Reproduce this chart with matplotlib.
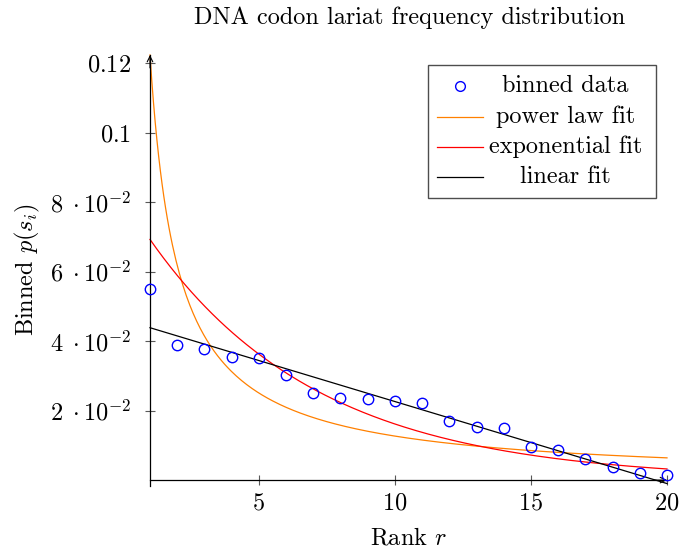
import numpy as np
import matplotlib
matplotlib.use("Agg")
import matplotlib.pyplot as plt
from matplotlib.patches import Rectangle
from matplotlib.lines import Line2D

plt.rcParams['mathtext.fontset'] = 'cm'
plt.rcParams['font.family'] = ['cmr10', 'DejaVu Sans']
plt.rcParams['axes.formatter.use_mathtext'] = True

# ---- data ----
ranks = list(range(1, 21))
binned = [0.0550, 0.0389, 0.0376, 0.0355, 0.0350, 0.0301, 0.0252, 0.0236, 0.0232, 0.0228,
          0.0221, 0.0171, 0.0154, 0.0151, 0.0094, 0.0088, 0.0060, 0.0037, 0.0019, 0.0015]

# fit parameters
power_a, power_b = 0.1223, 0.985        # a * r^-b
exp_a, exp_k = 0.0814, 0.1618           # a * exp(-k r)
lin_c, lin_m = 0.0462, -0.00236         # c + m r

yticks = [0.02, 0.04, 0.06, 0.08, 0.10, 0.12]
ytick_labels = [r'$2\;\cdot 10^{-2}$', r'$4\;\cdot 10^{-2}$', r'$6\;\cdot 10^{-2}$',
                r'$8\;\cdot 10^{-2}$', r'$0.1$', r'$0.12$']
xticks = [5, 10, 15, 20]
xtick_labels = ['$5$', '$10$', '$15$', '$20$']

legend_labels = ['binned data', 'power law fit', 'exponential fit', 'linear fit']
c_data, c_pow, c_exp, c_lin = '#0000FF', '#FF8000', '#FF0000', '#000000'

FS = 17.5

fig = plt.figure(figsize=(6.94, 5.5), dpi=100)
ax = fig.add_axes([150 / 694, (550 - 486) / 550, 517 / 694, 431 / 550])

r = np.linspace(1, 20, 300)
ax.plot(r, power_a * r ** (-power_b), color=c_pow, lw=0.9, clip_on=False)
ax.plot(r, exp_a * np.exp(-exp_k * r), color=c_exp, lw=0.9, clip_on=False)
ax.plot(r, lin_c + lin_m * r, color=c_lin, lw=0.9, clip_on=False)
ax.plot(ranks, binned, linestyle='none', marker='o', markersize=7.5, markerfacecolor='none',
        markeredgecolor=c_data, markeredgewidth=1.0, clip_on=False, zorder=5)

ax.set_xlim(1, 20)
ax.set_ylim(-0.0017, 0.1223)

for s in ['top', 'right']:
    ax.spines[s].set_visible(False)
ax.spines['bottom'].set_position(('data', 0))
ax.spines['left'].set_linewidth(0.9)
ax.spines['bottom'].set_linewidth(0.9)

ax.set_xticks(xticks)
ax.set_xticklabels(xtick_labels, fontsize=FS)
ax.set_yticks(yticks)
ax.set_yticklabels(ytick_labels, fontsize=FS)
ax.tick_params(direction='inout', length=7, width=0.8, color='0.35')
ax.tick_params(axis='y', pad=10)
ax.tick_params(axis='x', pad=5)

# axis arrows
ax.annotate('', xy=(0, 1.0), xytext=(0, 0.97), xycoords='axes fraction',
            arrowprops=dict(arrowstyle='->', lw=0.8, color='black', shrinkA=0, shrinkB=0))
ax.annotate('', xy=(20, 0), xytext=(19.5, 0), xycoords='data',
            arrowprops=dict(arrowstyle='->', lw=0.8, color='black', shrinkA=0, shrinkB=0))

# legend (pgfplots style: centered text)
tr = ax.transAxes
ax.add_patch(Rectangle((0.5383, 0.6682), 0.9787 - 0.5383, 0.9768 - 0.6682, transform=tr,
                       facecolor='white', edgecolor='0.3', lw=1.0, zorder=10, clip_on=False))
rows = [0.9281, 0.8568, 0.7872, 0.7176]
handles = [None, c_pow, c_exp, c_lin]
for lab, yy, col in zip(legend_labels, rows, handles):
    if col is None:
        ax.add_line(Line2D([0.5996], [yy], transform=tr, marker='o', markersize=7.0,
                           markerfacecolor='none', markeredgecolor=c_data,
                           markeredgewidth=1.0, linestyle='none', zorder=11, clip_on=False))
    else:
        ax.add_line(Line2D([0.5557, 0.6435], [yy, yy], transform=tr, color=col, lw=0.9,
                           zorder=11, clip_on=False))
    ax.text(0.8037, yy, lab, transform=tr, ha='center', va='center', fontsize=FS, zorder=12)

fig.text(409.5 / 694, 1 - 18 / 550, 'DNA codon lariat frequency distribution',
         ha='center', va='center', fontsize=FS)
fig.text(408.5 / 694, 1 - 538 / 550, r'Rank $r$', ha='center', va='center', fontsize=FS)
fig.text(27 / 694, 1 - 270 / 550, r'Binned $p(s_i)$', ha='center', va='center',
         rotation=90, fontsize=FS)

fig.savefig('out.png', dpi=100)
